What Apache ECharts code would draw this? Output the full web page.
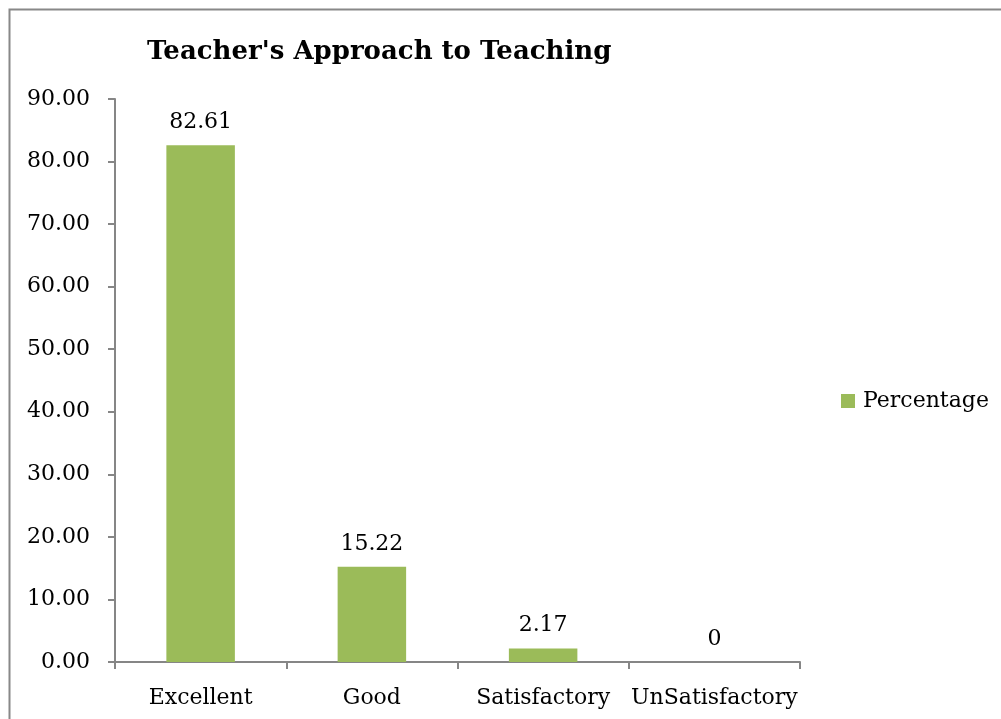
<!DOCTYPE html>
<html>
<head>
<meta charset="utf-8">
<script src="https://cdn.jsdelivr.net/npm/echarts@6/dist/echarts.min.js"></script>
<style>
  html, body { margin: 0; padding: 0; background: #fff; }
  #mychart { width: 1001px; height: 719px; }
</style>
</head>
<body>
<div id="mychart"></div>
<script>
// chart data
let categories = ['Excellent', 'Good', 'Satisfactory', 'UnSatisfactory']
let percentage = [82.61, 15.22, 2.17, 0]
let seriesName = 'Percentage'
let titleText = "Teacher's Approach to Teaching"

let font = 'DejaVu Serif'
let axisGray = '#868686'

let myChart = echarts.init(document.getElementById('mychart'))

let option = {
    animation: false,
    backgroundColor: '#fff',
    title: {
        text: titleText,
        left: 142,
        top: 34,
        textStyle: { fontFamily: font, fontWeight: 'bold', fontSize: 26, color: '#000' }
    },
    legend: {
        data: [seriesName],
        orient: 'vertical',
        left: 841,
        top: 390,
        padding: 0,
        icon: 'rect',
        itemWidth: 14,
        itemHeight: 14,
        textStyle: { fontFamily: font, fontSize: 22, color: '#000', padding: [0, 0, 0, 3] }
    },
    grid: { left: 115, right: 201, top: 99, bottom: 57, containLabel: false },
    xAxis: {
        type: 'category',
        data: categories,
        axisLine: { lineStyle: { color: axisGray, width: 2 } },
        axisTick: { show: true, length: 7, alignWithLabel: false, lineStyle: { color: axisGray, width: 2 } },
        axisLabel: { fontFamily: font, fontSize: 22, color: '#000', margin: 25, interval: 0 }
    },
    yAxis: {
        type: 'value',
        min: 0,
        max: 90,
        interval: 10,
        splitLine: { show: false },
        axisLine: { show: true, lineStyle: { color: axisGray, width: 2 } },
        axisTick: { show: true, length: 7, lineStyle: { color: axisGray, width: 2 } },
        axisLabel: {
            fontFamily: font, fontSize: 22, color: '#000', margin: 25,
            formatter: v => v.toFixed(2)
        }
    },
    graphic: [{
        type: 'rect',
        shape: { x: 9.5, y: 9.5, width: 1100, height: 800 },
        style: { fill: 'none', stroke: '#888', lineWidth: 2 },
        silent: true
    }],
    series: [{
        name: seriesName,
        type: 'bar',
        data: percentage,
        barWidth: '40%',
        itemStyle: { color: '#9BBB59' },
        label: {
            show: true,
            position: 'top',
            distance: 12,
            fontFamily: font,
            fontSize: 22,
            color: '#000'
        }
    }]
}
myChart.setOption(option)
</script>
</body>
</html>
